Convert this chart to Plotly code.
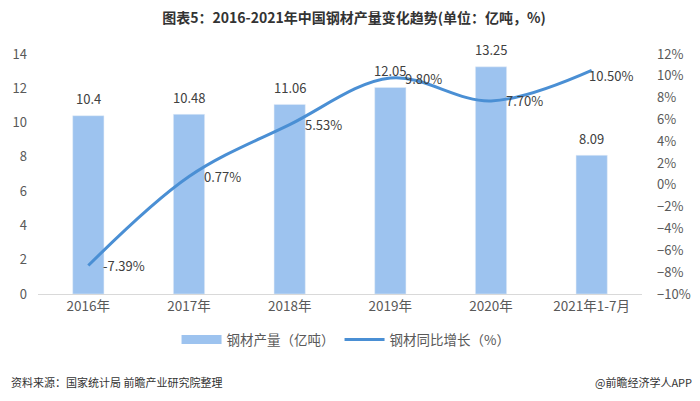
import plotly.graph_objects as go
from plotly.subplots import make_subplots

# 数据
years = ["2016年", "2017年", "2018年", "2019年", "2020年", "2021年1-7月"]
output = [10.4, 10.48, 11.06, 12.05, 13.25, 8.09]
growth = [-7.39, 0.77, 5.53, 9.80, 7.70, 10.50]

font_cn = "Noto Sans CJK SC"
grey = "#595959"
bar_color = "#9dc3ef"
line_color = "#4a8fd4"

fig = make_subplots(specs=[[{"secondary_y": True}]])

fig.add_trace(go.Bar(
    x=years, y=output,
    name="钢材产量（亿吨）",
    marker_color=bar_color,
    width=0.31,
    showlegend=False,
), secondary_y=False)

fig.add_trace(go.Scatter(
    x=years, y=growth,
    name="钢材同比增长（%）",
    mode="lines",
    line=dict(color=line_color, width=3, shape="spline", smoothing=1.0),
    showlegend=False,
), secondary_y=True)

# 图例（仿 Excel 的宽色块）
fig.add_trace(go.Scatter(x=[None], y=[None], mode="lines", name="钢材产量（亿吨）",
                         line=dict(color=bar_color, width=9)))
fig.add_trace(go.Scatter(x=[None], y=[None], mode="lines", name="钢材同比增长（%）",
                         line=dict(color=line_color, width=3)))

# 柱子数据标签
for yr, v in zip(years, output):
    fig.add_annotation(x=yr, y=v, xref="x", yref="y",
                       text=f"{v:g}", showarrow=False,
                       xanchor="center", yanchor="middle", yshift=17,
                       font=dict(size=13, color="#404040"))

# 折线数据标签：放在点的右侧
for i, (yr, g) in enumerate(zip(years, growth)):
    last = i == len(years) - 1
    fig.add_annotation(x=yr, y=g, xref="x", yref="y2",
                       text=f"{g:.2f}%", showarrow=False,
                       xanchor="left", yanchor="middle",
                       xshift=-5 if last else 13, yshift=-5 if last else 0,
                       font=dict(size=13, color="#404040"))

# 页面 body 自带 8px 边距，这里整体缩小 8px 抵消
fig.update_layout(
    width=692, height=393,
    plot_bgcolor="white", paper_bgcolor="white",
    font=dict(family=font_cn, size=12, color=grey),
    margin=dict(l=30, r=58, t=46, b=107, autoexpand=False),
    showlegend=True,
    legend=dict(orientation="h", x=0.51, xanchor="center", y=-0.19, yanchor="middle",
                font=dict(size=13.5, color=grey), itemwidth=40, tracegroupgap=30),
    title=dict(text="<b>图表5：2016-2021年中国钢材产量变化趋势(单位：亿吨，%)</b>",
               x=0.5, xanchor="center", y=0.975, yanchor="middle",
               font=dict(size=14, color="#333333", family=font_cn)),
)

fig.update_xaxes(domain=[0, 1], showline=True, linecolor="#d9d9d9", linewidth=1,
                 automargin=False, ticks="", tickfont=dict(size=13.5, color=grey),
                 showgrid=False)
fig.update_yaxes(range=[0, 14], dtick=2, showgrid=False, zeroline=False, automargin=False,
                 tickfont=dict(size=13, color=grey), ticklabelstandoff=10,
                 secondary_y=False)
fig.update_yaxes(range=[-10, 12], dtick=2, ticksuffix="%", showgrid=False, automargin=False,
                 zeroline=False, tickfont=dict(size=13, color=grey),
                 ticklabelstandoff=14, secondary_y=True)

fig.add_annotation(text="资料来源：国家统计局 前瞻产业研究院整理",
                   xref="paper", yref="paper", x=-0.048, y=-0.367,
                   xanchor="left", yanchor="middle", showarrow=False,
                   font=dict(size=11, color="#333333"))
fig.add_annotation(text="@前瞻经济学人APP",
                   xref="paper", yref="paper", x=1.086, y=-0.367,
                   xanchor="right", yanchor="middle", showarrow=False,
                   font=dict(size=11, color="#333333"))

fig.write_html("out.html")
